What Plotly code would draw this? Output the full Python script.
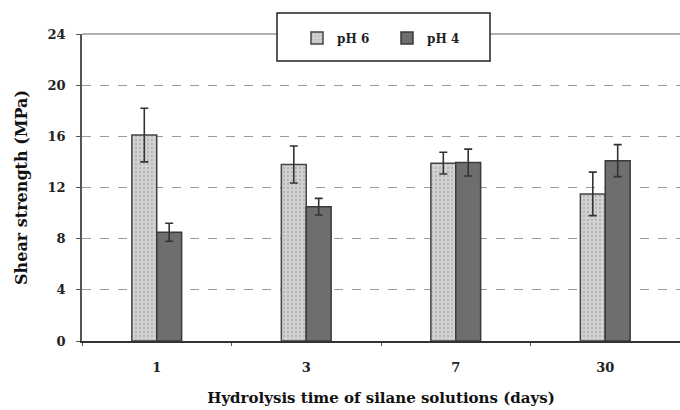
import plotly.graph_objects as go

categories = ["1", "3", "7", "30"]
ph6_values = [16.1, 13.8, 13.9, 11.5]
ph6_errors = [2.1, 1.45, 0.85, 1.7]
ph4_values = [8.5, 10.5, 13.95, 14.1]
ph4_errors = [0.7, 0.65, 1.05, 1.25]
y_ticks = [0, 4, 8, 12, 16, 20, 24]

FONT = "DejaVu Serif"
DARK = "#333333"

fig = go.Figure()
fig.add_trace(go.Bar(
    name="pH 6", x=categories, y=ph6_values,
    marker=dict(color="#cbcbcb", line=dict(color="#444444", width=1.5),
                pattern=dict(shape=".", fgcolor="#959595", bgcolor="#d2d2d2", size=4, solidity=0.25)),
    error_y=dict(type="data", array=ph6_errors, color=DARK, thickness=1.6, width=4),
))
fig.add_trace(go.Bar(
    name="pH 4", x=categories, y=ph4_values,
    marker=dict(color="#6e6e6e", line=dict(color="#3a3a3a", width=1.5)),
    error_y=dict(type="data", array=ph4_errors, color=DARK, thickness=1.6, width=4),
))

# plot area: x 82..680, y 34..341
L, T, B = 82, 34, 69
W, H = 680, 410
pw = W - L
ph = H - T - B

def px_x(x):
    return (x - L) / pw

def px_y(y):
    return (H - B - y) / ph

fig.update_layout(
    width=W, height=H,
    margin=dict(l=L, r=0, t=T, b=B),
    paper_bgcolor="white", plot_bgcolor="white",
    barmode="group", bargap=0.667, bargroupgap=0,
    showlegend=True,
    legend=dict(orientation="h", x=px_x(297), y=px_y(38), xanchor="left", yanchor="middle",
                bgcolor="rgba(0,0,0,0)", borderwidth=0, itemwidth=30, entrywidth=45,
                font=dict(family=FONT, size=12, color="#222222", weight="bold")),
    shapes=[
        dict(type="line", xref="paper", yref="paper", x0=0, x1=1, y0=1, y1=1,
             line=dict(color="#999999", width=1.5), layer="below"),
        dict(type="rect", xref="paper", yref="paper", x0=px_x(277), x1=px_x(490),
             y0=px_y(61), y1=px_y(13), fillcolor="white",
             line=dict(color="#222222", width=1.5), layer="above"),
    ],
    xaxis=dict(
        showline=True, linecolor="#333333", linewidth=1.5,
        ticks="outside", tickson="boundaries", ticklen=3, tickcolor="#555555",
        tickfont=dict(family=FONT, size=13, color="#222222", weight="bold"),
        ticklabelstandoff=14,
        title=dict(text="Hydrolysis time of silane solutions (days)", standoff=18,
                   font=dict(family=FONT, size=15, color="#111111", weight="bold")),
    ),
    yaxis=dict(
        range=[0, 24], tickvals=y_ticks,
        showline=True, linecolor="#555555", linewidth=1.5,
        ticks="outside", ticklen=4, tickcolor="#555555",
        showgrid=True, gridcolor="#9a9a9a", griddash="dash", gridwidth=1,
        zeroline=False,
        tickfont=dict(family=FONT, size=13, color="#222222", weight="bold"),
        ticklabelstandoff=8,
        title=dict(text="Shear strength (MPa)", standoff=16,
                   font=dict(family=FONT, size=16, color="#111111", weight="bold")),
    ),
)

fig.write_html("out.html")
